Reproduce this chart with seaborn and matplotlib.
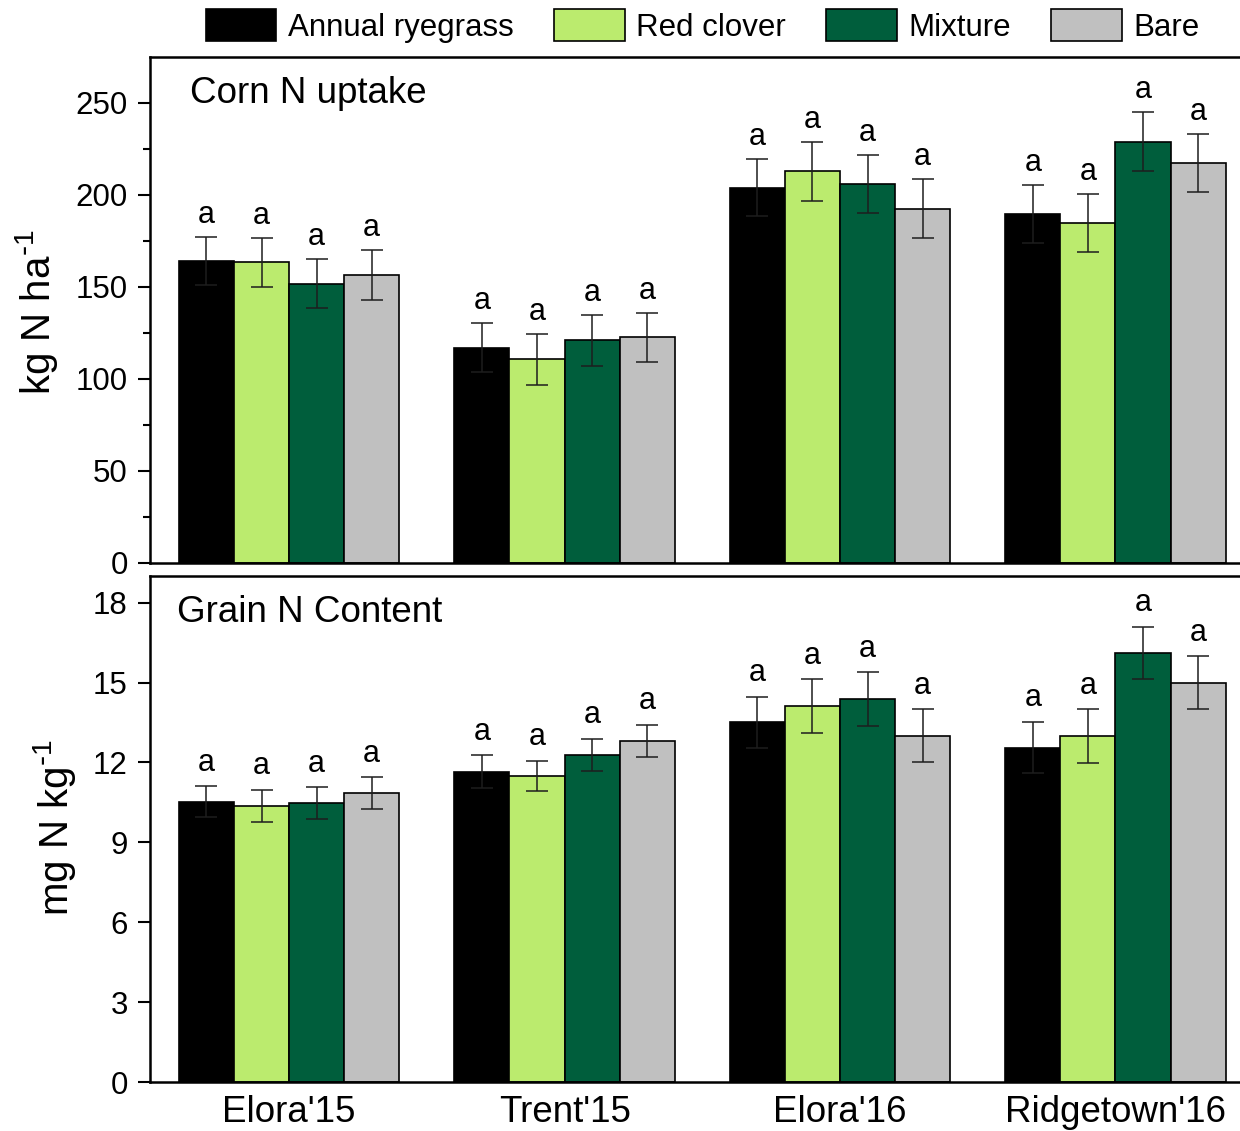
import numpy as np
import pandas as pd
import matplotlib
matplotlib.use("Agg")
import matplotlib.pyplot as plt
import seaborn as sns

# ---------------- data ----------------
sites = ["Elora'15", "Trent'15", "Elora'16", "Ridgetown'16"]
treatments = ["Annual ryegrass", "Red clover", "Mixture", "Bare"]
colors = ["#000000", "#BBEB6E", "#005E3C", "#C0C0C0"]

# Corn N uptake (kg N ha-1)
uptake_ryegrass = [164.3, 117.1, 204.0, 189.9]
uptake_clover = [163.4, 110.7, 212.9, 184.6]
uptake_mixture = [151.9, 121.1, 206.2, 228.9]
uptake_bare = [156.5, 122.7, 192.6, 217.5]
uptake_err_ryegrass = [13.0, 13.4, 15.4, 15.8]
uptake_err_clover = [13.5, 13.8, 16.0, 15.8]
uptake_err_mixture = [13.5, 13.8, 15.8, 16.0]
uptake_err_bare = [13.8, 13.4, 16.0, 15.9]
uptake_letters = [["a"] * 4, ["a"] * 4, ["a"] * 4, ["a"] * 4]

# Grain N content (mg N kg-1)
grain_ryegrass = [10.52, 11.65, 13.50, 12.56]
grain_clover = [10.38, 11.49, 14.12, 12.99]
grain_mixture = [10.47, 12.28, 14.38, 16.12]
grain_bare = [10.85, 12.82, 13.01, 14.99]
grain_err_ryegrass = [0.58, 0.61, 0.97, 0.97]
grain_err_clover = [0.60, 0.58, 1.00, 1.00]
grain_err_mixture = [0.60, 0.61, 1.00, 0.98]
grain_err_bare = [0.61, 0.60, 1.00, 1.00]
grain_letters = [["a"] * 4, ["a"] * 4, ["a"] * 4, ["a"] * 4]

# ---------------- style ----------------
sns.set_style("white")
plt.rcParams["font.family"] = ["Liberation Sans", "DejaVu Sans"]
plt.rcParams["mathtext.default"] = "regular"
for k in ["text.color", "axes.labelcolor", "xtick.color", "ytick.color",
          "axes.edgecolor"]:
    plt.rcParams[k] = "black"

W, H = 1240, 1131
fig = plt.figure(figsize=(W / 100, H / 100), dpi=100)


def make_df(series):
    rows = []
    for t, vals in zip(treatments, series):
        for s, v in zip(sites, vals):
            rows.append({"site": s, "treatment": t, "value": v})
    return pd.DataFrame(rows)


def panel(rect, series, errs, letters, ylim, yticks, minor, ylabel, label_xy,
          title, title_xy, show_xlabels, letter_off):
    ax = fig.add_axes(rect)
    df = make_df(series)
    sns.barplot(data=df, x="site", y="value", hue="treatment",
                order=sites, hue_order=treatments, palette=colors,
                errorbar=None, edgecolor="black", linewidth=1.2,
                saturation=1, width=0.8, ax=ax)
    # error bars and letters on top of the seaborn bars
    for cont, err, lets in zip(ax.containers, errs, letters):
        xs = [b.get_x() + b.get_width() / 2 for b in cont]
        hs = [b.get_height() for b in cont]
        ax.errorbar(xs, hs, yerr=err, fmt="none", ecolor="#1e1e1e",
                    elinewidth=1.1, capsize=8, capthick=1.1, zorder=5)
        for x, h, e, l in zip(xs, hs, err, lets):
            ax.annotate(l, (x, h + e), xytext=(0, letter_off),
                        textcoords="offset points", ha="center",
                        va="baseline", fontsize=22, color="black")
    leg = ax.get_legend()
    handles, labels = ax.get_legend_handles_labels()
    if leg is not None:
        leg.remove()
    ax.set_xlim(-0.505, 3.452)
    ax.set_ylim(*ylim)
    ax.set_yticks(yticks)
    ax.set_yticklabels([str(v) for v in yticks])
    if minor is not None:
        ax.set_yticks(minor, minor=True)
    ax.tick_params(axis="y", which="major", direction="out", length=9,
                   width=1.5, labelsize=22.5, pad=7, left=True,
                   color="black", labelcolor="black")
    ax.tick_params(axis="y", which="minor", direction="out", length=5,
                   width=1.5, left=True, color="black")
    ax.tick_params(axis="x", length=0, labelsize=26.5, pad=9,
                   labelcolor="black")
    if not show_xlabels:
        ax.set_xticklabels([])
    ax.set_xlabel("")
    for side in ["left", "bottom", "top"]:
        ax.spines[side].set_visible(True)
        ax.spines[side].set_linewidth(1.8)
        ax.spines[side].set_color("black")
    ax.spines["right"].set_visible(False)
    ax.set_ylabel(ylabel, fontsize=29, va="center", ha="center",
                  color="black")
    ax.yaxis.set_label_coords(label_xy[0] / W, 1 - label_xy[1] / H,
                              transform=fig.transFigure)
    ax.text(title_xy[0], title_xy[1], title, transform=ax.transAxes,
            fontsize=26.5, ha="left", va="baseline", color="black")
    return ax, handles, labels


left = 150 / W
width = 1.0 - left
top_rect = [left, 1 - 563 / H, width, 506 / H]
bot_rect = [left, 1 - 1082 / H, width, 506 / H]

ax1, handles, labels = panel(
    top_rect,
    [uptake_ryegrass, uptake_clover, uptake_mixture, uptake_bare],
    [uptake_err_ryegrass, uptake_err_clover, uptake_err_mixture, uptake_err_bare],
    uptake_letters, (0, 275), [0, 50, 100, 150, 200, 250],
    [25, 75, 125, 175, 225], r"kg N ha$^{\text{-}1}$", (37, 312),
    "Corn N uptake", (0.0367, 0.9085), False, 10)

ax2, _, _ = panel(
    bot_rect,
    [grain_ryegrass, grain_clover, grain_mixture, grain_bare],
    [grain_err_ryegrass, grain_err_clover, grain_err_mixture, grain_err_bare],
    grain_letters, (0, 19), [0, 3, 6, 9, 12, 15, 18], None,
    r"mg N kg$^{\text{-}1}$", (55, 828),
    "Grain N Content", (0.0248, 0.9097), True, 11)

fig.legend(handles, labels, loc="center", bbox_to_anchor=(702.5 / W, 1 - 26 / H),
           ncol=4, frameon=False, fontsize=22.5, handlelength=2.26,
           handleheight=1.2, handletextpad=0.36, columnspacing=1.3,
           borderpad=0, borderaxespad=0)

fig.savefig("out.png", dpi=100)
